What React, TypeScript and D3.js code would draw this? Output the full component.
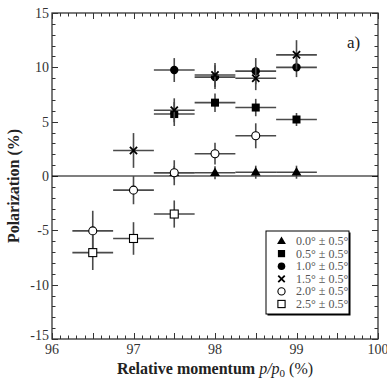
import React, { useEffect, useRef } from "react";
import * as d3 from "d3";

// momentum (%) and polarization (%) for each angle bin
const triX = [97.5, 98, 98.5, 99];
const triY = [0.3, 0.3, 0.35, 0.35];
const triErr = [0.6, 0.6, 0.6, 0.6];

const sqX = [97.5, 98, 98.5, 99];
const sqY = [5.7, 6.75, 6.3, 5.2];
const sqErr = [1.1, 0.85, 0.8, 0.6];

const circX = [97.5, 98, 98.5, 99];
const circY = [9.75, 9.1, 9.65, 10.0];
const circErr = [1.1, 1.1, 1.2, 0.9];

const crossX = [97, 97.5, 98, 98.5, 99];
const crossY = [2.35, 6.05, 9.3, 9.0, 11.15];
const crossErr = [1.6, 1.1, 1.1, 1.1, 1.35];

const ocX = [96.5, 97, 97.5, 98, 98.5];
const ocY = [-5.05, -1.3, 0.3, 2.05, 3.7];
const ocErr = [1.85, 1.3, 1.15, 1.0, 1.15];

const osX = [96.5, 97, 97.5];
const osY = [-7.05, -5.75, -3.5];
const osErr = [1.6, 1.5, 1.25];

const xErr = 0.25;

const legendLabels = [
  "0.0° ± 0.5°",
  "0.5° ± 0.5°",
  "1.0° ± 0.5°",
  "1.5° ± 0.5°",
  "2.0° ± 0.5°",
  "2.5° ± 0.5°",
];
const xTicks = [96, 97, 98, 99, 100];
const yTicks = [-15, -10, -5, 0, 5, 10, 15];

type Kind = "tri" | "sq" | "circ" | "cross" | "ocirc" | "osq";

const series: { kind: Kind; xs: number[]; ys: number[]; errs: number[] }[] = [
  { kind: "tri", xs: triX, ys: triY, errs: triErr },
  { kind: "sq", xs: sqX, ys: sqY, errs: sqErr },
  { kind: "circ", xs: circX, ys: circY, errs: circErr },
  { kind: "cross", xs: crossX, ys: crossY, errs: crossErr },
  { kind: "ocirc", xs: ocX, ys: ocY, errs: ocErr },
  { kind: "osq", xs: osX, ys: osY, errs: osErr },
];

const FONT = "Liberation Serif, Times New Roman, Times, serif";

function drawMarker(g: d3.Selection<SVGGElement, unknown, null, undefined>, kind: Kind, cx: number, cy: number, s = 1) {
  if (kind === "tri") {
    g.append("path")
      .attr("d", d3.symbol(d3.symbolTriangle, 42 * s * s)())
      .attr("transform", `translate(${cx},${cy + 0.5})`)
      .attr("fill", "#000");
  } else if (kind === "sq") {
    g.append("rect")
      .attr("x", cx - 4 * s).attr("y", cy - 4 * s)
      .attr("width", 8 * s).attr("height", 8 * s)
      .attr("fill", "#000");
  } else if (kind === "circ") {
    g.append("circle").attr("cx", cx).attr("cy", cy).attr("r", 4.2 * s).attr("fill", "#000");
  } else if (kind === "cross") {
    const r = 3.6 * s;
    g.append("path")
      .attr("d", `M${cx - r},${cy - r}L${cx + r},${cy + r}M${cx - r},${cy + r}L${cx + r},${cy - r}`)
      .attr("stroke", "#000").attr("stroke-width", 1.8);
  } else if (kind === "ocirc") {
    g.append("circle").attr("cx", cx).attr("cy", cy).attr("r", 4 * s)
      .attr("fill", "#fff").attr("stroke", "#000").attr("stroke-width", 1.1);
  } else {
    g.append("rect")
      .attr("x", cx - 4 * s).attr("y", cy - 4 * s)
      .attr("width", 8 * s).attr("height", 8 * s)
      .attr("fill", "#fff").attr("stroke", "#000").attr("stroke-width", 1.1);
  }
}

export default function App() {
  const ref = useRef<SVGSVGElement | null>(null);

  useEffect(() => {
    if (!ref.current) return;
    const svg = d3.select(ref.current);
    svg.selectAll("*").remove();

    const left = 52, right = 378, top = 13, bottom = 339;
    const x = d3.scaleLinear().domain([96, 100]).range([left, right]);
    const y = d3.scaleLinear().domain([-15, 15]).range([bottom, top]);

    const axisColor = "#333";

    // minor / major ticks, all pointing inward
    const ticks = svg.append("g").attr("stroke", axisColor).attr("stroke-width", 1);
    d3.range(96, 100.001, 0.1).forEach((v) => {
      const isMajor = Math.abs(v * 2 - Math.round(v * 2)) < 1e-6;
      const len = isMajor ? 6 : 3.5;
      const px = Math.round(x(v)) + 0.5;
      ticks.append("line").attr("x1", px).attr("x2", px).attr("y1", bottom).attr("y2", bottom - len);
      ticks.append("line").attr("x1", px).attr("x2", px).attr("y1", top).attr("y2", top + len);
    });
    d3.range(-15, 15.001, 1).forEach((v) => {
      const isMajor = Math.round(v) % 5 === 0;
      const len = isMajor ? 6 : 3.5;
      const py = Math.round(y(v)) + 0.5;
      ticks.append("line").attr("x1", left).attr("x2", left + len).attr("y1", py).attr("y2", py);
      ticks.append("line").attr("x1", right).attr("x2", right - len).attr("y1", py).attr("y2", py);
    });

    // frame
    svg.append("rect")
      .attr("x", left).attr("y", top)
      .attr("width", right - left).attr("height", bottom - top)
      .attr("fill", "none").attr("stroke", axisColor).attr("stroke-width", 1.3);

    // zero line
    svg.append("line")
      .attr("x1", left).attr("x2", right)
      .attr("y1", y(0)).attr("y2", y(0))
      .attr("stroke", "#000").attr("stroke-width", 1.2);

    // tick labels (bottom one is lifted so it clears the x labels)
    svg.append("g").selectAll("text").data(yTicks).enter().append("text")
      .attr("x", left - 3).attr("y", (d) => y(d) + (d === -15 ? 1 : 5))
      .attr("text-anchor", "end")
      .attr("font-family", FONT).attr("font-size", 14).attr("fill", "#333")
      .text((d) => String(d));
    svg.append("g").selectAll("text").data(xTicks).enter().append("text")
      .attr("x", (d) => x(d)).attr("y", bottom + 15)
      .attr("text-anchor", "middle")
      .attr("font-family", FONT).attr("font-size", 14).attr("fill", "#333")
      .text((d) => String(d));

    // data: error bars then markers, series in order
    series.forEach((s) => {
      const g = svg.append("g");
      s.xs.forEach((xv, i) => {
        const cx = x(xv), cy = y(s.ys[i]);
        g.append("line")
          .attr("x1", x(xv - xErr)).attr("x2", x(xv + xErr))
          .attr("y1", cy).attr("y2", cy)
          .attr("stroke", "#4a4a4a").attr("stroke-width", 1.6);
        g.append("line")
          .attr("x1", cx).attr("x2", cx)
          .attr("y1", y(s.ys[i] - s.errs[i])).attr("y2", y(s.ys[i] + s.errs[i]))
          .attr("stroke", "#4a4a4a").attr("stroke-width", 1.6);
        drawMarker(g, s.kind, cx, cy);
      });
    });

    // "a)" label
    svg.append("text")
      .attr("x", 347).attr("y", 48)
      .attr("font-family", FONT).attr("font-size", 17).attr("fill", "#222")
      .text("a)");

    // legend
    const lg = svg.append("g");
    const lx = 266, ly = 231, lw = 83, lh = 83;
    lg.append("rect")
      .attr("x", lx + 1.5).attr("y", ly + 1.5).attr("width", lw).attr("height", lh)
      .attr("fill", "#000");
    lg.append("rect")
      .attr("x", lx).attr("y", ly).attr("width", lw).attr("height", lh)
      .attr("fill", "#fff").attr("stroke", "#000").attr("stroke-width", 1);
    legendLabels.forEach((lab, i) => {
      const cy = ly + 10 + i * 12.6;
      drawMarker(lg, series[i].kind, 281.5, cy, 0.9);
      lg.append("text")
        .attr("x", 296).attr("y", cy + 4)
        .attr("font-family", FONT).attr("font-size", 12).attr("fill", "#555")
        .text(lab);
    });

    // axis titles
    const xt = svg.append("text")
      .attr("x", 215).attr("y", 374)
      .attr("text-anchor", "middle")
      .attr("font-family", FONT).attr("font-size", 16).attr("fill", "#222");
    xt.append("tspan").attr("font-weight", "bold").text("Relative momentum ");
    xt.append("tspan").attr("font-style", "italic").text("p");
    xt.append("tspan").attr("font-style", "italic").text("/");
    xt.append("tspan").attr("font-style", "italic").text("p");
    xt.append("tspan").attr("font-size", 11).attr("dy", 3).text("0");
    xt.append("tspan").attr("dy", -3).text(" (%)");

    svg.append("text")
      .attr("transform", `translate(19,186) rotate(-90)`)
      .attr("text-anchor", "middle")
      .attr("font-family", FONT).attr("font-size", 16).attr("font-weight", "bold").attr("fill", "#222")
      .text("Polarization (%)");
  }, []);

  return (
    <svg
      ref={ref}
      width={387}
      height={379}
      style={{ position: "absolute", left: 0, top: 0, background: "#fff" }}
    />
  );
}
